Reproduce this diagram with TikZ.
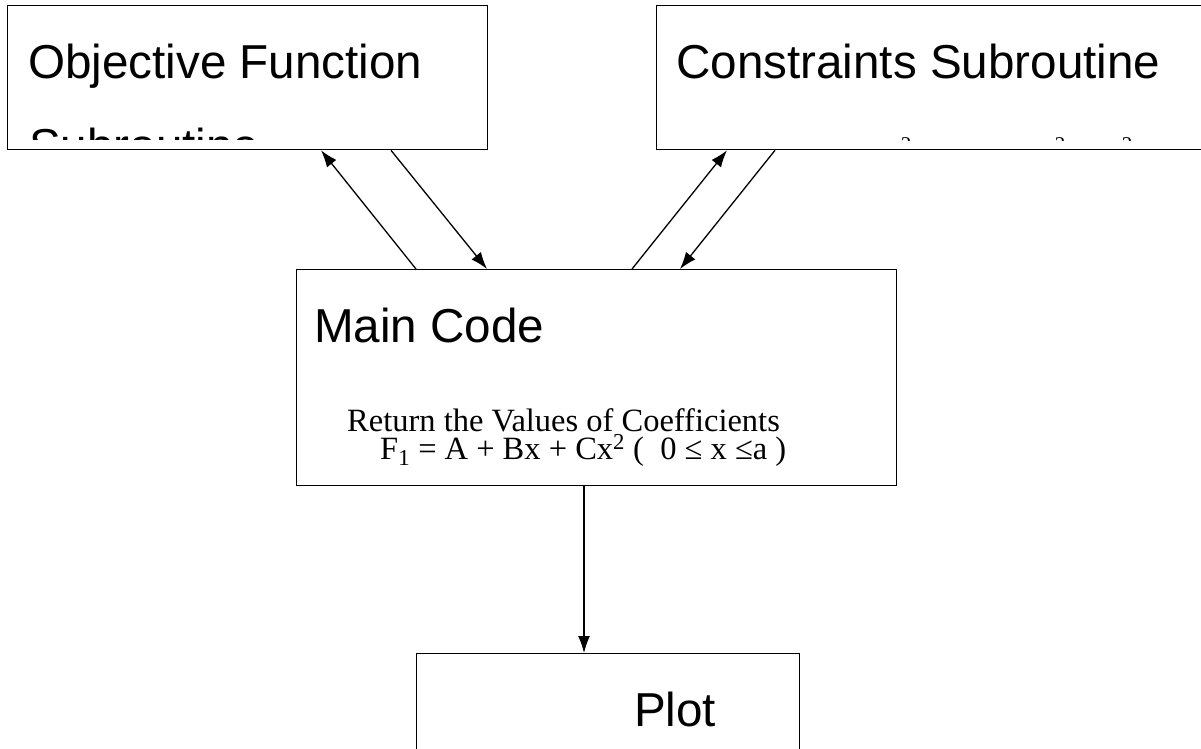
\documentclass[tikz,border=0pt]{standalone}
\usepackage{fontspec}
\newfontfamily\arialf{Liberation Sans}
\newfontfamily\timesf{Liberation Serif}
\usetikzlibrary{arrows.meta}
\begin{document}
\begin{tikzpicture}[x=1pt,y=-1pt,
  box/.style={draw,line width=1.3pt,rectangle,inner sep=0pt,anchor=north west},
  conn/.style={line width=1.3pt,-{Latex[length=17pt,width=12pt]}},
  big/.style={font=\arialf\fontsize{47.6}{57}\selectfont,inner sep=0pt,anchor=base west},
  small/.style={font=\timesf\fontsize{32.5}{38}\selectfont,inner sep=0pt,anchor=base west},
  tiny/.style={font=\timesf\fontsize{21}{25}\selectfont,inner sep=0pt,anchor=base}]
\useasboundingbox (0,0) rectangle (1201,748);
\fill[white] (0,0) rectangle (1201,748);
% boxes
\node[box,minimum width=480pt,minimum height=144pt] (obj) at (7,5) {};
\node[box,minimum width=560pt,minimum height=144pt] (cons) at (655.5,5) {};
\node[box,minimum width=600pt,minimum height=216pt] (main) at (296,269) {};
\node[box,minimum width=383pt,minimum height=140pt] (plot) at (416,653) {};
% texts
\node[big] (objt) at (28,78) {Objective Function};
\begin{scope}
  \clip (8,6) rectangle (486,139.5);
  \node[big] (objsub) at (29,162) {Subroutine};
\end{scope}
\node[big] (const) at (676,78) {Constraints Subroutine};
\begin{scope}
  \clip (656,6) rectangle (1201,140);
  \node[tiny] (s1) at (906,151) {2};
  \node[tiny] (s2) at (1060,151) {2};
  \node[tiny] (s3) at (1127,151) {2};
\end{scope}
\node[big] (maint) at (314,342) {Main Code};
\node[small] (ret) at (347,431) {Return the Values of Coefficients};
\node[small] (form) at (380,459) {F\textsubscript{1} = A + Bx + Cx\textsuperscript{2} (\ \ 0 ≤ x ≤a )};
\node[big] (plott) at (634,726) {Plot};
% connectors
\draw[conn] ([xshift=120pt]main.north west) -- ([xshift=314pt]obj.south west);
\draw[conn] ([xshift=384pt]obj.south west) -- ([xshift=191pt]main.north west);
\draw[conn] ([xshift=336pt]main.north west) -- ([xshift=71.5pt]cons.south west);
\draw[conn] ([xshift=119.5pt]cons.south west) -- ([xshift=384pt]main.north west);
\draw[conn] ([xshift=288pt]main.south west) -- ([xshift=168pt]plot.north west);
\end{tikzpicture}
\end{document}
